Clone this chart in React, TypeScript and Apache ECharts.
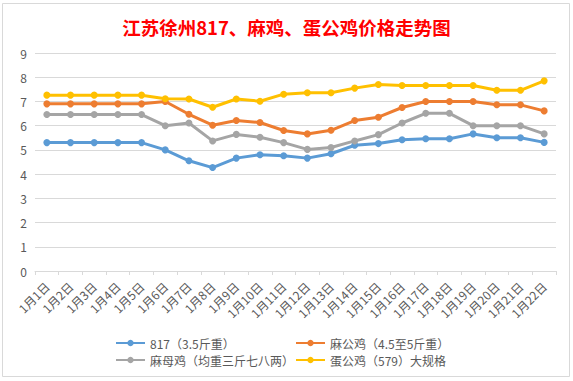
import React, { useEffect, useRef } from "react";
import * as echarts from "echarts";

const titleText = "江苏徐州817、麻鸡、蛋公鸡价格走势图";
const categories = [
  "1月1日", "1月2日", "1月3日", "1月4日", "1月5日", "1月6日", "1月7日", "1月8日",
  "1月9日", "1月10日", "1月11日", "1月12日", "1月13日", "1月14日", "1月15日",
  "1月16日", "1月17日", "1月18日", "1月19日", "1月20日", "1月21日", "1月22日",
];
const seriesNames = [
  "817（3.5斤重）",
  "麻公鸡（4.5至5斤重）",
  "麻母鸡（均重三斤七八两）",
  "蛋公鸡（579）大规格",
];
const s817 = [5.3, 5.3, 5.3, 5.3, 5.3, 5.0, 4.55, 4.27, 4.66, 4.8, 4.76, 4.66, 4.84, 5.19, 5.26, 5.42, 5.46, 5.46, 5.66, 5.5, 5.5, 5.31];
const maGong = [6.9, 6.9, 6.9, 6.9, 6.9, 7.0, 6.47, 6.02, 6.21, 6.13, 5.8, 5.66, 5.81, 6.21, 6.35, 6.75, 7.0, 7.0, 7.0, 6.86, 6.86, 6.61];
const maMu = [6.46, 6.46, 6.46, 6.46, 6.46, 6.0, 6.11, 5.37, 5.64, 5.52, 5.3, 5.02, 5.1, 5.37, 5.63, 6.11, 6.51, 6.51, 6.0, 6.0, 6.0, 5.66];
const danGong = [7.26, 7.26, 7.26, 7.26, 7.26, 7.11, 7.1, 6.76, 7.1, 7.01, 7.3, 7.36, 7.36, 7.55, 7.7, 7.66, 7.66, 7.66, 7.66, 7.46, 7.46, 7.85];
const colors = ["#5B9BD5", "#ED7D31", "#A5A5A5", "#FFC000"];

export default function App() {
  const ref = useRef<HTMLDivElement>(null);
  useEffect(() => {
    if (!ref.current) return;
    const chart = echarts.init(ref.current, null, { renderer: "svg" });
    const values = [s817, maGong, maMu, danGong];
    const font = "'Noto Sans CJK SC', 'Noto Sans', sans-serif";
    chart.setOption({
      animation: false,
      color: colors,
      textStyle: { fontFamily: font },
      title: {
        text: titleText,
        left: "center",
        top: 13,
        textStyle: { color: "#FF0000", fontSize: 18.5, fontWeight: "bold", fontFamily: font },
      },
      graphic: [
        {
          type: "rect",
          shape: { x: 2.5, y: 3.5, width: 567, height: 373 },
          style: { fill: "none", stroke: "#D9D9D9", lineWidth: 1 },
          silent: true,
          z: -1,
        },
      ],
      legend: [
        {
          orient: "vertical",
          left: 110,
          top: 332,
          itemWidth: 29,
          itemHeight: 8,
          itemGap: 5,
          data: [seriesNames[0], seriesNames[2]],
          textStyle: { color: "#595959", fontSize: 12, fontFamily: font },
        },
        {
          orient: "vertical",
          left: 290,
          top: 332,
          itemWidth: 29,
          itemHeight: 8,
          itemGap: 5,
          data: [seriesNames[1], seriesNames[3]],
          textStyle: { color: "#595959", fontSize: 12, fontFamily: font },
        },
      ],
      grid: { left: 35, right: 17, top: 53, bottom: 110, containLabel: false },
      xAxis: {
        type: "category",
        data: categories,
        boundaryGap: true,
        axisLine: { lineStyle: { color: "#D9D9D9", width: 1 } },
        axisTick: { show: true, alignWithLabel: false, length: 4, lineStyle: { color: "#D9D9D9" } },
        axisLabel: { rotate: 45, color: "#595959", fontSize: 12, interval: 0, margin: 13 },
      },
      yAxis: {
        type: "value",
        min: 0,
        max: 9,
        interval: 1,
        axisLine: { show: false },
        axisTick: { show: false },
        axisLabel: { color: "#595959", fontSize: 12, margin: 8 },
        splitLine: { lineStyle: { color: "#D9D9D9", width: 1 } },
      },
      series: seriesNames.map((name, i) => ({
        name,
        type: "line",
        data: values[i],
        symbol: "circle",
        symbolSize: 7,
        lineStyle: { width: 3, color: colors[i] },
        itemStyle: { color: colors[i] },
      })),
    });
    return () => chart.dispose();
  }, []);
  return <div ref={ref} style={{ width: 573, height: 381, position: "absolute", left: 0, top: 0, background: "#fff" }} />;
}
